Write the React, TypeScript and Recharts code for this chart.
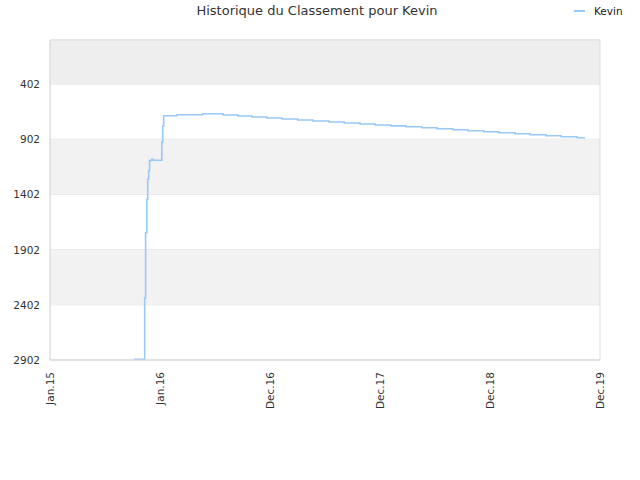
import React from "react";
import { LineChart, Line, XAxis, YAxis, CartesianGrid, ReferenceArea } from "recharts";

// days since 2015-01-01
const days = [274, 309, 312, 316, 319, 322, 325, 332, 337, 365, 368, 371, 415, 498, 565, 614, 659, 708, 757, 809, 858, 911, 960, 1012, 1061, 1113, 1162, 1214, 1263, 1315, 1364, 1416, 1465, 1518, 1567, 1619, 1668, 1720, 1746];
const ranks = [2896, 2340, 1749, 1446, 1262, 1187, 1095, 1084, 1093, 925, 782, 689, 680, 671, 683, 692, 701, 710, 719, 728, 737, 746, 755, 764, 773, 781, 789, 798, 807, 816, 825, 834, 843, 852, 861, 870, 879, 888, 888];
const xTicks = [0, 359, 718, 1077, 1436, 1795];
const xLabels = ["Jan.15", "Jan.16", "Dec.16", "Dec.17", "Dec.18", "Dec.19"];
const yTicks = [402, 902, 1402, 1902, 2402, 2902];
const bands = [
  [3, 402, "#eeeeee"],
  [902, 1402, "#f2f2f2"],
  [1902, 2402, "#f2f2f2"],
];
const seriesName = "Kevin";
const title = "Historique du Classement pour Kevin";

const data = days.map((d, i) => ({ day: d, rank: ranks[i] }));
const FONT = "'DejaVu Sans', sans-serif";
const COLOR = "#99c9f7";

const XTick = (props: any) => {
  const { x, y, payload } = props;
  const label = xLabels[xTicks.indexOf(payload.value)] ?? "";
  return (
    <text
      x={x}
      y={y}
      transform={`rotate(-90 ${x} ${y})`}
      textAnchor="end"
      dominantBaseline="central"
      fontSize={10.5}
      fontFamily={FONT}
      fill="#333"
    >
      {label}
    </text>
  );
};

const YTick = (props: any) => {
  const { x, y, payload } = props;
  return (
    <text x={x} y={y} textAnchor="end" dominantBaseline="central" fontSize={10.5} fontFamily={FONT} fill="#333">
      {payload.value}
    </text>
  );
};

export default function App() {
  return (
    <div style={{ position: "absolute", left: 0, top: 0, width: 640, height: 480, background: "#fff" }}>
      <div
        style={{
          position: "absolute",
          left: 0,
          width: 634,
          top: 3,
          textAlign: "center",
          fontFamily: FONT,
          fontSize: 13,
          color: "#333",
        }}
      >
        {title}
      </div>
      <div style={{ position: "absolute", left: 574, top: 5, display: "flex", alignItems: "center", fontFamily: FONT, fontSize: 10.5, color: "#222" }}>
        <span style={{ display: "inline-block", width: 11, height: 2, background: COLOR, marginRight: 9 }} />
        <span>{seriesName}</span>
      </div>
      <LineChart width={640} height={480} data={data} margin={{ top: 40, right: 40, left: 0, bottom: 0 }}>
        {bands.map(([a, b, c], i) => (
          <ReferenceArea key={i} y1={a as number} y2={b as number} fill={c as string} fillOpacity={1} stroke="none" />
        ))}
        <CartesianGrid horizontal={true} vertical={false} stroke="#e0e0e0" strokeDasharray="" />
        <ReferenceArea x1={0} x2={1795} y1={3} y2={2902} fill="none" stroke="#dddddd" strokeWidth={1} />
        <XAxis
          dataKey="day"
          type="number"
          domain={[0, 1795]}
          ticks={xTicks}
          height={120}
          axisLine={{ stroke: "#dddddd" }}
          tickLine={false}
          tickSize={8}
          tickMargin={4}
          tick={<XTick />}
          interval={0}
        />
        <YAxis
          type="number"
          dataKey="rank"
          reversed
          domain={[3, 2902]}
          ticks={yTicks}
          width={50}
          axisLine={{ stroke: "#dddddd" }}
          tickLine={false}
          tickSize={8}
          tickMargin={2}
          tick={<YTick />}
          interval={0}
          allowDataOverflow
        />
        <Line
          type="stepAfter"
          dataKey="rank"
          stroke={COLOR}
          strokeWidth={1.6}
          dot={false}
          isAnimationActive={false}
        />
      </LineChart>
    </div>
  );
}
